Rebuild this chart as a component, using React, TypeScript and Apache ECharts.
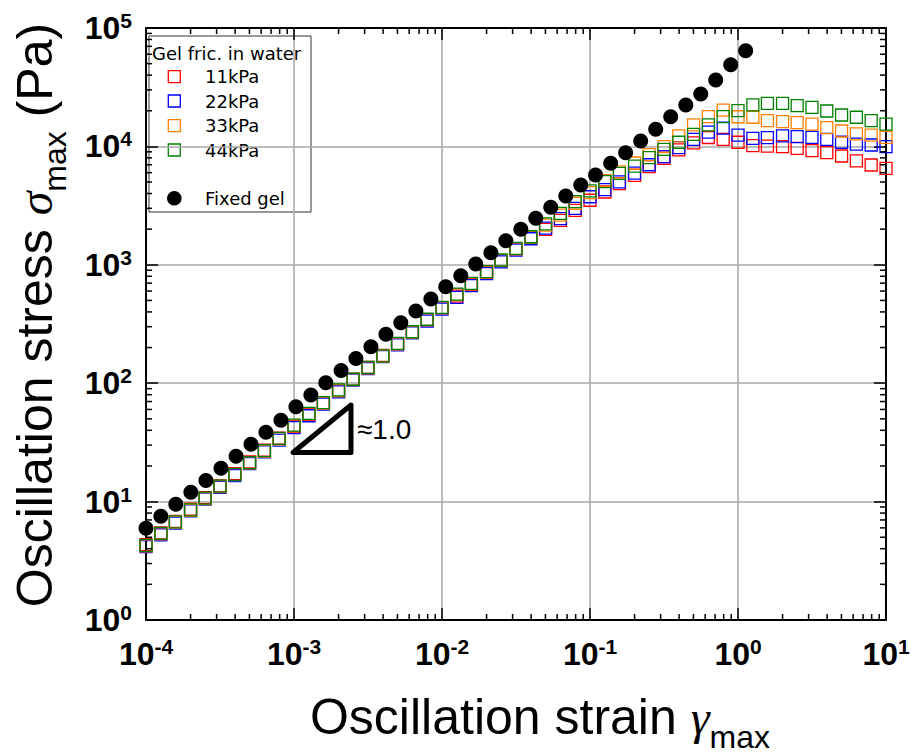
import React, { useEffect, useRef } from 'react';
import * as echarts from 'echarts';

// ---- Data ----
const strainSq = [
  1.0e-4, 1.26e-4, 1.58e-4, 2.0e-4, 2.51e-4, 3.16e-4, 3.98e-4, 5.01e-4, 6.31e-4, 7.94e-4,
  1.0e-3, 1.26e-3, 1.58e-3, 2.0e-3, 2.51e-3, 3.16e-3, 3.98e-3, 5.01e-3, 6.31e-3, 7.94e-3,
  1.0e-2, 1.26e-2, 1.58e-2, 2.0e-2, 2.51e-2, 3.16e-2, 3.98e-2, 5.01e-2, 6.31e-2, 7.94e-2,
  0.1, 0.126, 0.158, 0.2, 0.251, 0.316, 0.398, 0.501, 0.631, 0.794,
  1.0, 1.26, 1.58, 2.0, 2.51, 3.16, 3.98, 5.01, 6.31, 7.94,
  10.0,
];
const stress11 = [
  4.32, 5.44, 6.82, 8.63, 10.8, 13.6, 17.2, 21.6, 27.2, 34.3,
  43.2, 54.4, 68.2, 86.3, 108, 136, 172, 216, 272, 343,
  432, 544, 682, 863, 1083, 1364, 1690, 1995, 2371, 2884,
  3508, 4121, 4842, 5689, 6761, 7943, 9333, 10720, 11890, 11480,
  10840, 10140, 10070, 9954, 9638, 9204, 8851, 8299, 7534, 6966,
  6531,
];
const stress22 = [
  4.17, 5.25, 6.59, 8.34, 10.5, 13.2, 16.6, 20.9, 26.3, 33.1,
  42.2, 53.1, 66.7, 84.4, 106, 133, 168, 211, 266, 335,
  422, 531, 667, 843, 1059, 1334, 1660, 2042, 2455, 2999,
  3758, 4315, 5012, 5957, 6998, 8185, 9772, 11480, 13180, 14290,
  12470, 11690, 11860, 12250, 12080, 11940, 11480, 10840, 10470, 10280,
  9954,
];
const stress33 = [
  4.22, 5.33, 6.7, 8.45, 10.6, 13.4, 16.9, 21.2, 26.7, 33.9,
  43.6, 55.0, 68.0, 86.8, 107, 135, 169, 215, 270, 344,
  434, 560, 690, 868, 1088, 1365, 1705, 2163, 2630, 3311,
  4074, 5130, 6095, 7244, 8511, 9954, 12250, 15170, 17820, 20280,
  17800, 17620, 16480, 16180, 15850, 15450, 14390, 13490, 12740, 12470,
  11940,
];
const stress44 = [
  4.27, 5.39, 6.75, 8.53, 10.7, 13.5, 17.0, 21.3, 26.9, 34.2,
  44.2, 55.6, 68.6, 87.7, 108, 136, 170, 217, 272, 347,
  437, 565, 697, 876, 1098, 1377, 1725, 2213, 2723, 3412,
  4217, 5035, 5929, 6823, 8035, 9441, 10840, 12650, 15170, 17820,
  20090, 22390, 23120, 23120, 22080, 21380, 19910, 18410, 17620, 16480,
  15450,
];
const strainFixed = [
  1.0e-4, 1.26e-4, 1.59e-4, 2.01e-4, 2.54e-4, 3.21e-4, 4.06e-4, 5.12e-4, 6.46e-4, 8.16e-4,
  1.03e-3, 1.3e-3, 1.64e-3, 2.08e-3, 2.62e-3, 3.31e-3, 4.18e-3, 5.27e-3, 6.66e-3, 8.41e-3,
  1.06e-2, 1.34e-2, 1.69e-2, 2.14e-2, 2.7e-2, 3.41e-2, 4.3e-2, 5.43e-2, 6.86e-2, 8.66e-2,
  0.109, 0.138, 0.174, 0.22, 0.278, 0.351, 0.444, 0.56, 0.707, 0.893,
  1.127,
];
const stressFixed = [
  5.96, 7.52, 9.51, 12.0, 15.1, 19.1, 24.2, 30.5, 38.5, 48.6,
  63.2, 79.4, 101, 128, 162, 203, 259, 324, 407, 514,
  653, 809, 1016, 1265, 1596, 1995, 2472, 3062, 3811, 4721,
  5728, 7194, 8851, 11120, 13930, 17820, 22390, 27730, 36390, 48980,
  64270,
];

const seriesNames = ['11kPa', '22kPa', '33kPa', '44kPa'];
const seriesColors = ['#ff0000', '#0000ff', '#ff8000', '#008000'];
const fixedName = 'Fixed gel';
const legendTitle = 'Gel fric. in water';
const slopeLabel = '≈1.0';

const xMin = 1e-4;
const xMax = 10;
const yMin = 1;
const yMax = 1e5;
const xDecades = [1e-4, 1e-3, 1e-2, 1e-1, 1];
const yDecades = [1, 10, 100, 1000, 10000];
const minorMultipliers = [2, 3, 4, 5, 6, 7, 8, 9];

const pairs = (xs: number[], ys: number[]) => xs.map((x, i) => [x, ys[i]]);

const labelRich = {
  b: { fontSize: 32, fontWeight: 'bold', fontFamily: 'Liberation Sans', color: '#000', lineHeight: 36 },
  s: { fontSize: 21, fontWeight: 'bold', fontFamily: 'Liberation Sans', color: '#000', lineHeight: 22, verticalAlign: 'top' },
};
const powLabel = (v: number) => {
  const e = Math.round(Math.log10(v));
  return `{b|10}{s|${e}}`;
};

export default function App() {
  const ref = useRef<HTMLDivElement>(null);
  useEffect(() => {
    if (!ref.current) return;
    const chart = echarts.init(ref.current, null, { renderer: 'svg' });

    const xMinor = xDecades.flatMap((d) => minorMultipliers.map((m) => m * d));
    const yMinor = yDecades.flatMap((d) => minorMultipliers.map((m) => m * d));
    const tickStyle = { stroke: '#000', lineWidth: 1.5 };
    const minorLen = 6;

    const axisCommon = {
      type: 'log' as const,
      logBase: 10,
      axisLine: { show: true, onZero: false, lineStyle: { color: '#000', width: 2 } },
      axisTick: { show: true, inside: true, length: 12, lineStyle: { color: '#000', width: 1.5 } },
      minorTick: { show: false },
    };

    const squareSeries = seriesNames.map((name, i) => ({
      name,
      type: 'scatter',
      symbol: 'rect',
      symbolSize: 12,
      clip: false,
      itemStyle: { color: 'rgba(0,0,0,0)', borderColor: seriesColors[i], borderWidth: 1.3, opacity: 1 },
      data: pairs(strainSq, [stress11, stress22, stress33, stress44][i]),
      z: 3,
    }));

    const legendRows = [76.7, 101, 125.7, 150];

    const option: any = {
      animation: false,
      backgroundColor: '#fff',
      grid: { left: 146, right: 28, top: 28, bottom: 134, containLabel: false },
      xAxis: [
        {
          ...axisCommon,
          min: xMin,
          max: xMax,
          position: 'bottom',
          splitLine: { show: true, lineStyle: { color: '#a8a8a8', width: 1.5 } },
          axisLabel: { margin: 16, formatter: powLabel, rich: labelRich },
        },
        {
          ...axisCommon,
          min: xMin,
          max: xMax,
          position: 'top',
          splitLine: { show: false },
          axisLabel: { show: false },
        },
      ],
      yAxis: [
        {
          ...axisCommon,
          min: yMin,
          max: yMax,
          position: 'left',
          splitLine: { show: true, lineStyle: { color: '#a8a8a8', width: 1.5 } },
          axisLabel: { margin: 14, formatter: powLabel, rich: labelRich },
        },
        {
          ...axisCommon,
          min: yMin,
          max: yMax,
          position: 'right',
          splitLine: { show: false },
          axisLabel: { show: false },
        },
      ],
      series: [
        ...squareSeries,
        {
          name: fixedName,
          type: 'scatter',
          symbol: 'circle',
          symbolSize: 15,
          clip: false,
          itemStyle: { color: '#000', opacity: 1 },
          data: pairs(strainFixed, stressFixed),
          z: 4,
        },
        {
          type: 'custom',
          silent: true,
          xAxisIndex: 0,
          yAxisIndex: 0,
          data: xMinor.map((v) => [v, yMin]),
          renderItem: (params: any, api: any) => {
            const cs = params.coordSys;
            const x = api.coord([api.value(0), yMin])[0];
            const yb = cs.y + cs.height;
            const yt = cs.y;
            return {
              type: 'group',
              children: [
                { type: 'line', shape: { x1: x, y1: yb, x2: x, y2: yb - minorLen }, style: tickStyle },
                { type: 'line', shape: { x1: x, y1: yt, x2: x, y2: yt + minorLen }, style: tickStyle },
              ],
            };
          },
          z: 5,
        },
        {
          type: 'custom',
          silent: true,
          xAxisIndex: 0,
          yAxisIndex: 0,
          data: yMinor.map((v) => [xMin, v]),
          renderItem: (params: any, api: any) => {
            const cs = params.coordSys;
            const y = api.coord([xMin, api.value(1)])[1];
            const xl = cs.x;
            const xr = cs.x + cs.width;
            return {
              type: 'group',
              children: [
                { type: 'line', shape: { x1: xl, y1: y, x2: xl + minorLen, y2: y }, style: tickStyle },
                { type: 'line', shape: { x1: xr, y1: y, x2: xr - minorLen, y2: y }, style: tickStyle },
              ],
            };
          },
          z: 5,
        },
      ],
      graphic: [
        // legend box
        {
          type: 'group',
          z: 100,
          children: [
            { type: 'rect', shape: { x: 149, y: 36, width: 162, height: 176 }, style: { fill: '#fff', stroke: '#333', lineWidth: 1 } },
            {
              type: 'text', x: 152, y: 53,
              style: { text: legendTitle, fontSize: 18, fontFamily: 'DejaVu Sans', fill: '#000', verticalAlign: 'middle', align: 'left' },
            },
            ...seriesNames.flatMap((name, i) => [
              {
                type: 'rect',
                shape: { x: 174.3 - 6, y: legendRows[i] - 6, width: 12, height: 12 },
                style: { fill: 'none', stroke: seriesColors[i], lineWidth: 1.3 },
              },
              {
                type: 'text', x: 205, y: legendRows[i],
                style: { text: name, fontSize: 18, fontFamily: 'DejaVu Sans', fill: '#000', verticalAlign: 'middle', align: 'left' },
              },
            ]),
            { type: 'circle', shape: { cx: 174.3, cy: 198.3, r: 7.3 }, style: { fill: '#000' } },
            {
              type: 'text', x: 205, y: 198.3,
              style: { text: fixedName, fontSize: 18, fontFamily: 'DejaVu Sans', fill: '#000', verticalAlign: 'middle', align: 'left' },
            },
          ],
        },
        // slope triangle
        {
          type: 'polygon',
          z: 90,
          shape: { points: [[293, 452.5], [351, 452.5], [351, 405]] },
          style: { fill: 'none', stroke: '#000', lineWidth: 5, lineJoin: 'round' },
        },
        {
          type: 'text', z: 90, x: 357, y: 429,
          style: { text: slopeLabel, fontSize: 28, fontFamily: 'Liberation Sans', fill: '#000', verticalAlign: 'middle', align: 'left' },
        },
        // x axis title
        {
          type: 'text', z: 90, x: 540, y: 717,
          style: {
            text: '{t|Oscillation strain }{g|γ}{s|max}',
            align: 'center',
            verticalAlign: 'middle',
            rich: {
              t: { fontSize: 50, fontFamily: 'Liberation Sans', fill: '#000', lineHeight: 72 },
              g: { fontSize: 48, fontFamily: 'Liberation Serif', fontStyle: 'italic', fill: '#000', lineHeight: 72 },
              s: { fontSize: 32, fontFamily: 'Liberation Sans', fill: '#000', lineHeight: 30, verticalAlign: 'bottom' },
            },
          },
        },
        // y axis title
        {
          type: 'text', z: 90, x: 35, y: 315, rotation: Math.PI / 2,
          style: {
            text: '{t|Oscillation stress }{g|σ}{s|max}{t| (Pa)}',
            align: 'center',
            verticalAlign: 'middle',
            rich: {
              t: { fontSize: 50, fontFamily: 'Liberation Sans', fill: '#000', lineHeight: 72 },
              g: { fontSize: 48, fontFamily: 'Liberation Serif', fontStyle: 'italic', fill: '#000', lineHeight: 72 },
              s: { fontSize: 32, fontFamily: 'Liberation Sans', fill: '#000', lineHeight: 30, verticalAlign: 'bottom' },
            },
          },
        },
      ],
    };

    chart.setOption(option);
    return () => chart.dispose();
  }, []);

  return <div ref={ref} style={{ position: 'absolute', left: 0, top: 0, width: 914, height: 754 }} />;
}
